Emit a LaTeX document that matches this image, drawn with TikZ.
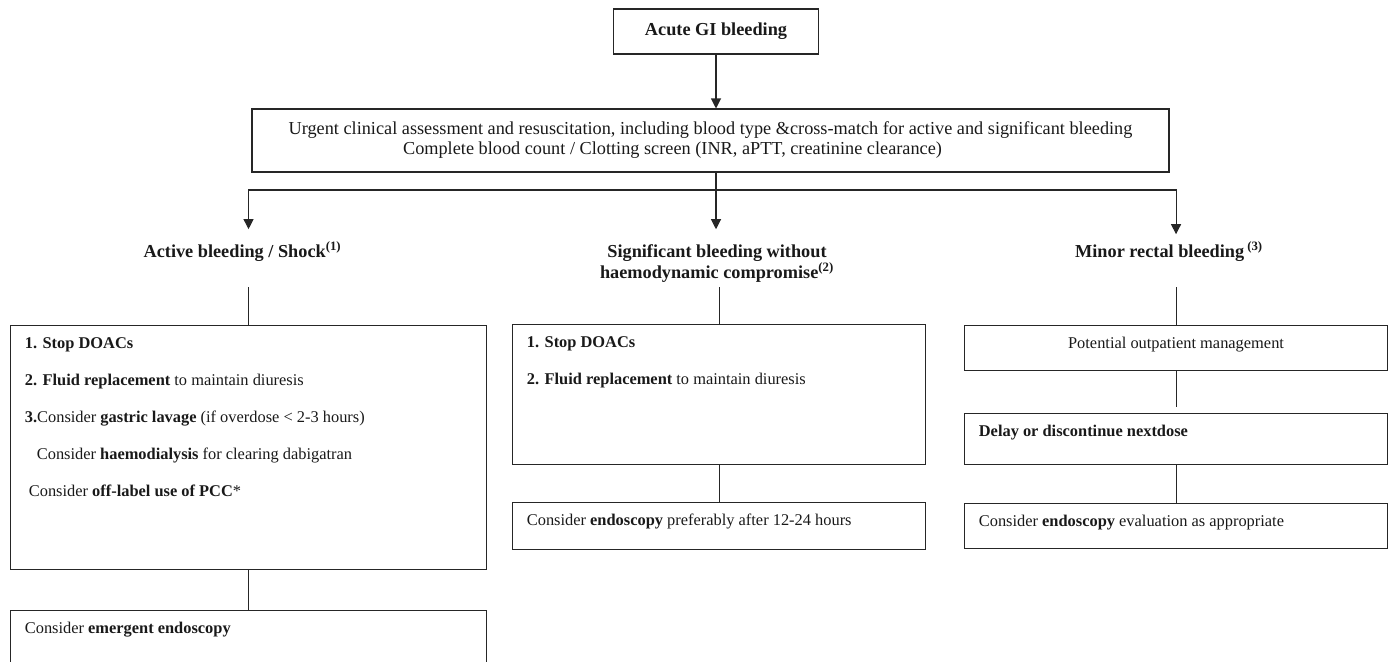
\documentclass[tikz,border=0pt]{standalone}
\usepackage{fontspec}
\setmainfont{Liberation Serif}
\usetikzlibrary{arrows.meta}

% text block of a box: width, height, lines
\newcommand{\panel}[3]{%
  \begin{minipage}[c][#2][t]{#1}\baselineskip=27.75pt\leftskip=10.75pt
  \rule{0pt}{17.25pt}#3\end{minipage}}

\tikzset{
  box/.style={draw=black!85, line width=0.8pt, inner sep=0pt, anchor=north west},
  branch/.style={font=\fontsize{13.7pt}{15.75pt}\selectfont\bfseries, inner sep=0pt, align=center},
  link/.style={draw=black!85, line width=0.8pt},
  arr/.style={link, -{Triangle[length=7.5pt,width=7.5pt]}},
}

\begin{document}
\begin{tikzpicture}[x=0.75pt, y=-0.75pt, font=\fontsize{12.3pt}{15pt}\selectfont, text=black!90]
    \useasboundingbox (0,0) rectangle (1389,661);
    \clip (0,0) rectangle (1389,661);

    % Start and assessment
    \node [draw=black!85, line width=0.8pt, minimum width=153.75pt, minimum height=33.75pt,
           font=\fontsize{13.7pt}{15pt}\selectfont\bfseries] (acute) at (716,31.5) {Acute GI bleeding};
    \node [draw=black!85, line width=0.8pt, minimum width=687.75pt, minimum height=47.25pt,
           align=center, font=\fontsize{13.7pt}{15pt}\selectfont] (assess) at (710.5,140.5)
          {Urgent clinical assessment and resuscitation, including blood type \&cross-match for active and significant bleeding\\
           Complete blood count / Clotting screen (INR, aPTT, creatinine clearance)\hspace*{57pt}};
    \coordinate (split) at (716,190);

    % Three kinds of bleeding
    \node [branch] (active) at (242.5,252) {Active bleeding / Shock\textsuperscript{(1)}};
    \node [branch] (signif) at (717,264) {Significant bleeding without\\ haemodynamic compromise\textsuperscript{(2)}};
    \node [branch] (minor) at (1169,252) {Minor rectal bleeding\,\textsuperscript{(3)}};

    % Active bleeding
    \node [box] (act1) at (10,325) {\panel{357pt}{183pt}{%
        \textbf{1. Stop DOACs}\\
        \textbf{2. Fluid replacement} to maintain diuresis\\
        \textbf{3.}Consider \textbf{gastric lavage} (if overdose < 2-3 hours)\\
        \hspace*{9pt}Consider \textbf{haemodialysis} for clearing dabigatran\\
        \hspace*{3pt}Consider \textbf{off-label use of PCC}*}};
    \node [box] (act2) at (10,610) {\panel{357pt}{60pt}{Consider \textbf{emergent endoscopy}}};

    % Significant bleeding
    \node [box] (sig1) at (512,324) {\panel{309.75pt}{105pt}{%
        \textbf{1. Stop DOACs}\\
        \textbf{2. Fluid replacement} to maintain diuresis}};
    \node [box] (sig2) at (512,502) {\panel{309.75pt}{35.25pt}{Consider \textbf{endoscopy} preferably after 12-24 hours}};

    % Minor bleeding
    \node [box] (min1) at (964,325) {\panel{317.25pt}{33.75pt}{\centering Potential outpatient management}};
    \node [box] (min2) at (964,413) {\panel{317.25pt}{38.25pt}{\textbf{Delay or discontinue nextdose}}};
    \node [box] (min3) at (964,503) {\panel{317.25pt}{33.75pt}{Consider \textbf{endoscopy} evaluation as appropriate}};

    % Connectors
    \draw [arr] (acute.south) -- (acute.south |- assess.north);
    \draw [link] (assess.south -| split) -- (split);
    \draw [arr, shorten >=9.5pt] (split) -| (act1.north |- active.north);
    \draw [arr, shorten >=11.7pt] (split) -- (split |- signif.north);
    \draw [arr, shorten >=5.7pt] (split) -| (min1.north |- minor.north);

    \draw [link, shorten <=18.75pt] (act1.north |- active.south) -- (act1.north);
    \draw [link, shorten <=3pt] (sig1.north |- signif.south) -- (sig1.north);
    \draw [link, shorten <=18.75pt] (min1.north |- minor.south) -- (min1.north);

    \draw [link] (act1) -- (act2);
    \draw [link] (sig1) -- (sig2);
    \draw [link, shorten >=4.5pt] (min1) -- (min2);
    \draw [link] (min2) -- (min3);
\end{tikzpicture}
\end{document}
